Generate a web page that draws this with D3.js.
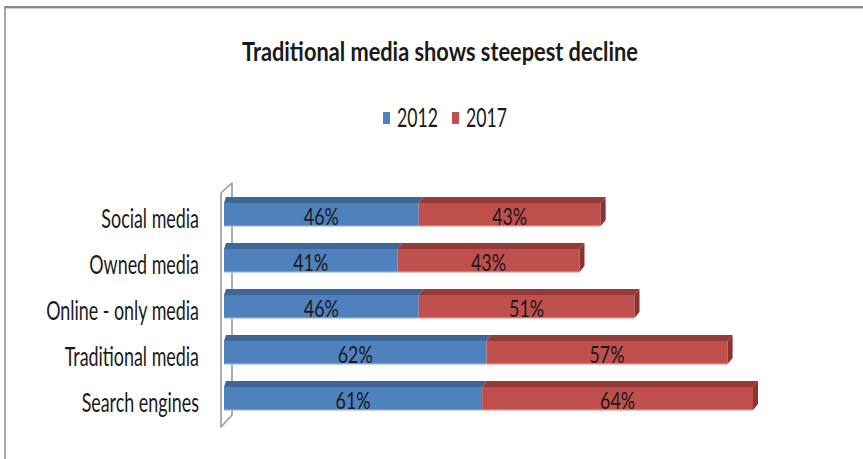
<!DOCTYPE html>
<html>
<head>
<meta charset="utf-8">
<script src="https://cdn.jsdelivr.net/npm/d3@7"></script>
<style>
  html, body { margin: 0; padding: 0; background: #fff; }
  svg text { font-family: Lato, "Open Sans", "Liberation Sans", sans-serif; fill: #1a1a1a; }
</style>
</head>
<body>
<svg id="chart" width="863" height="459"></svg>
<script>
// Share of respondents by channel, 2012 vs 2017
const categories = ["Social media", "Owned media", "Online - only media", "Traditional media", "Search engines"];
const years = ["2012", "2017"];
const values2012 = [46, 41, 46, 62, 61];
const values2017 = [43, 43, 51, 57, 64];
const titleText = "Traditional media shows steepest decline";

const colors = {
  "2012": { front: "#4F81BD", top: "#3E6699", edge: "#A9C0E0" },
  "2017": { front: "#C0504D", top: "#943B39", side: "#8A3431", edge: "#E2A9A7" }
};

const svg = d3.select("#chart");
const W = 863, H = 459;

// Condensed text: draw at (x, y) and squeeze horizontally by sx
function narrowText(parent, x, y, str, size, sx, anchor, weight) {
  const g = parent.append("g").attr("transform", `translate(${x},${y}) scale(${sx},1)`);
  return g.append("text").attr("text-anchor", anchor || "start")
    .attr("font-size", size).attr("font-weight", weight || "normal").text(str);
}
// horizontal factor that makes str span the given width
function fitFactor(str, size, width, weight) {
  const t = svg.append("text").attr("font-size", size).attr("font-weight", weight || "normal").text(str);
  const w = t.node().getComputedTextLength();
  t.remove();
  return width / w;
}

// outer frame (top and left edges)
svg.append("line").attr("x1", 5).attr("x2", W).attr("y1", 7).attr("y2", 7)
  .attr("stroke", "#8a8a8a").attr("stroke-width", 2.2);
svg.append("line").attr("x1", 5).attr("x2", W).attr("y1", 8.6).attr("y2", 8.6)
  .attr("stroke", "#d4d4d4").attr("stroke-width", 1);
svg.append("line").attr("x1", 5).attr("x2", 5).attr("y1", 6).attr("y2", H)
  .attr("stroke", "#8a8a8a").attr("stroke-width", 1.5);

// title
const titleSx = fitFactor(titleText, 27, 396, "bold");
narrowText(svg, 440, 61, titleText, 27, titleSx, "middle", "bold");

// scales
const x = d3.scaleLinear().domain([0, 125]).range([224, 753]);
const y = d3.scaleBand().domain(categories).range([191.5, 421.5])
  .paddingInner(0.5).paddingOuter(0.25);
const depthX = 5, depthY = 6;

// legend
const legend = svg.append("g");
const legendX = { "2012": 383, "2017": 452 };
const legendSx = fitFactor("2012", 26, 41);
years.forEach(yr => {
  legend.append("rect").attr("x", legendX[yr]).attr("y", 112).attr("width", 7).attr("height", 12)
    .attr("fill", colors[yr].front);
  narrowText(legend, legendX[yr] + 14, 127, yr, 26, legendSx, "start");
});

// 3D side wall behind the category axis
const wallTop = y(categories[0]) - 10, wallBot = y(categories[categories.length - 1]) + y.bandwidth() + 17;
const wall = d3.path();
wall.moveTo(221, wallBot);
wall.lineTo(221, wallTop);
wall.lineTo(232, wallTop - 10);
wall.lineTo(232, wallBot - 12);
wall.closePath();
svg.append("path").attr("d", wall.toString()).attr("fill", "#fff")
  .attr("stroke", "#9a9a9a").attr("stroke-width", 1.6).attr("stroke-linejoin", "round");

// stacked data
const rows = categories.map((c, i) => ({ cat: c, "2012": values2012[i], "2017": values2017[i] }));
const stacked = d3.stack().keys(years)(rows);

const valueSx = fitFactor("46%", 24, 35);
const barsG = svg.append("g");
stacked.forEach((layer, li) => {
  const yr = layer.key;
  layer.forEach((d, i) => {
    const x0 = x(d[0]), x1 = x(d[1]);
    const yf = y(categories[i]), h = y.bandwidth();
    const g = barsG.append("g");
    // top face
    const leftShift = li === 0 ? 2 : depthX;
    g.append("path")
      .attr("d", `M${x0},${yf} L${x0 + leftShift},${yf - depthY} L${x1 + depthX},${yf - depthY} L${x1},${yf} Z`)
      .attr("fill", colors[yr].top);
    // front face
    g.append("rect").attr("x", x0).attr("y", yf).attr("width", x1 - x0).attr("height", h)
      .attr("fill", colors[yr].front);
    // lighter bottom edge
    g.append("rect").attr("x", x0).attr("y", yf + h - 0.5).attr("width", x1 - x0).attr("height", 1.2)
      .attr("fill", colors[yr].edge);
    // right side face on the outermost segment
    if (li === stacked.length - 1) {
      g.append("path")
        .attr("d", `M${x1},${yf} L${x1 + depthX},${yf - depthY} L${x1 + depthX},${yf + h - depthY} L${x1},${yf + h} Z`)
        .attr("fill", colors[yr].side);
    }
    // value label
    narrowText(g, (x0 + x1) / 2, yf + h - 1, d.data[yr] + "%", 24, valueSx, "middle");
  });
});

// category labels
const catSx = fitFactor("Online - only media", 26, 153);
const catG = svg.append("g");
categories.forEach(c => {
  narrowText(catG, 199, y(c) + y.bandwidth() + 2, c, 26, catSx, "end");
});
</script>
</body>
</html>
